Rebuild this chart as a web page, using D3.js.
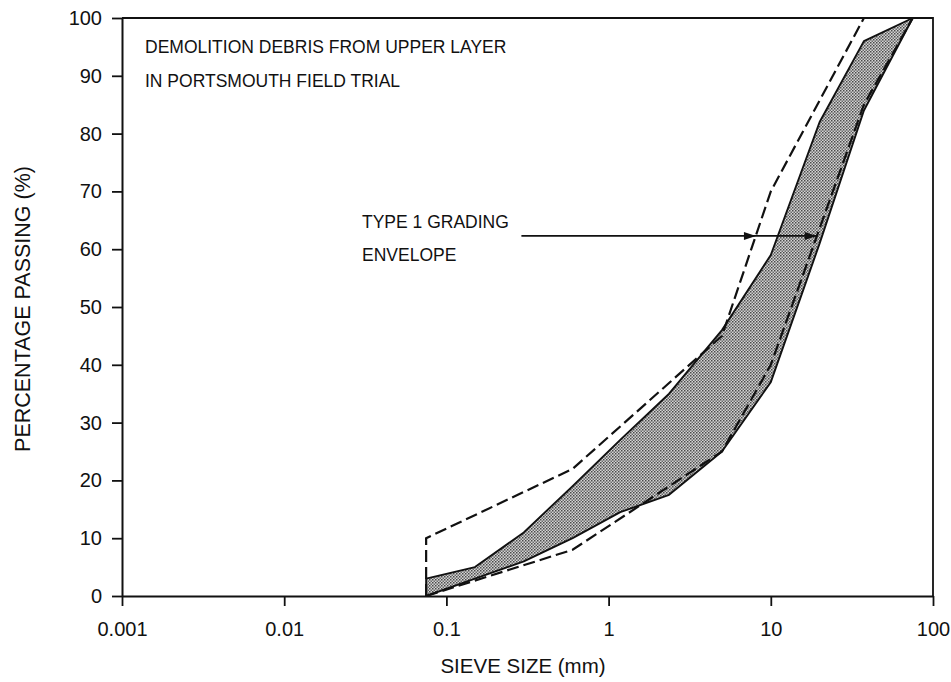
<!DOCTYPE html>
<html>
<head>
<meta charset="utf-8">
<script src="https://cdn.jsdelivr.net/npm/d3@7"></script>
<style>
  html, body { margin: 0; padding: 0; background: #fff; }
  text { font-family: "Liberation Sans", Arial, Helvetica, sans-serif; fill: #111; }
</style>
</head>
<body>
<svg id="chart" width="951" height="682"></svg>
<script>
// ---- data ----
const xTicks = [0.001, 0.01, 0.1, 1, 10, 100];
const xTickLabels = ["0.001", "0.01", "0.1", "1", "10", "100"];
const yTicks = [0, 10, 20, 30, 40, 50, 60, 70, 80, 90, 100];

// Type 1 grading envelope (dashed)
const envSieve = [0.075, 0.6, 5, 10, 37.5, 75];
const envUpper = [10, 22, 45, 70, 100, 100];
const envLower = [0, 8, 25, 40, 85, 100];

// Demolition debris grading band (shaded)
const bandSieve = [0.075, 0.15, 0.3, 0.6, 1.18, 2.36, 5, 10, 20, 37.5, 75];
const bandUpper = [3, 5, 11, 19, 27, 35, 46, 59, 82, 96, 100];
const bandLower = [0, 3, 6, 10, 14.5, 17.5, 25, 37, 61, 84, 100];

// annotation
const titleLines = ["DEMOLITION DEBRIS FROM UPPER LAYER", "IN PORTSMOUTH FIELD TRIAL"];
const noteLines = ["TYPE 1 GRADING", "ENVELOPE"];
const arrowLevel = 62.3;
const arrowFrom = 0.29;
const arrowTips = [8.1, 19.2];

// ---- layout ----
const svg = d3.select("#chart");
const mL = 122, mR = 933, mT = 18, mB = 596;
const x = d3.scaleLog().domain([0.001, 100]).range([mL, mR]);
const y = d3.scaleLinear().domain([0, 100]).range([mB, mT]);

// pattern for shading
const defs = svg.append("defs");
const pat = defs.append("pattern").attr("id", "stip").attr("patternUnits", "userSpaceOnUse")
  .attr("width", 3).attr("height", 3);
pat.append("rect").attr("width", 3).attr("height", 3).attr("fill", "#d4d4d4");
pat.append("rect").attr("x", 0).attr("y", 0).attr("width", 1.5).attr("height", 1.5).attr("fill", "#4a4a4a");
pat.append("rect").attr("x", 1.5).attr("y", 1.5).attr("width", 1.5).attr("height", 1.5).attr("fill", "#6a6a6a");

// shaded band
const bandPts = bandSieve.map((s, i) => [x(s), y(bandUpper[i])])
  .concat(bandSieve.map((s, i) => [x(s), y(bandLower[i])]).reverse());
svg.append("path")
  .attr("d", d3.line()(bandPts) + "Z")
  .attr("fill", "url(#stip)")
  .attr("stroke", "#111").attr("stroke-width", 1.9).attr("stroke-linejoin", "round");

// envelope dashed lines
const dash = "12,5";
const upperPts = [[x(envSieve[0]), y(0)]].concat(envSieve.map((s, i) => [x(s), y(envUpper[i])]));
svg.append("path").attr("d", d3.line()(upperPts))
  .attr("fill", "none").attr("stroke", "#111").attr("stroke-width", 2.2).attr("stroke-dasharray", dash);
const lowerPts = envSieve.map((s, i) => [x(s), y(envLower[i])]);
svg.append("path").attr("d", d3.line()(lowerPts))
  .attr("fill", "none").attr("stroke", "#111").attr("stroke-width", 2.2).attr("stroke-dasharray", dash);

// frame
svg.append("path")
  .attr("d", `M${mL},${mT}H${mR}V${mB}`)
  .attr("fill", "none").attr("stroke", "#111").attr("stroke-width", 1.8);

// axes
const xAxis = d3.axisBottom(x).tickValues(xTicks).tickFormat((d, i) => xTickLabels[i])
  .tickSizeInner(10).tickSizeOuter(0).tickPadding(16);
const gx = svg.append("g").attr("transform", `translate(0,${mB})`).call(xAxis);
const yAxis = d3.axisLeft(y).tickValues(yTicks).tickSizeInner(10).tickSizeOuter(0).tickPadding(10);
const gy = svg.append("g").attr("transform", `translate(${mL},0)`).call(yAxis);
[gx, gy].forEach(g => {
  g.selectAll("path.domain").attr("stroke", "#111").attr("stroke-width", 2);
  g.selectAll(".tick line").attr("stroke", "#111").attr("stroke-width", 1.8);
  g.selectAll("text").attr("font-size", 20).attr("fill", "#111")
    .style("font-family", "'Liberation Sans', Arial, sans-serif");
});

// axis titles
svg.append("text").attr("x", 523).attr("y", 673).attr("text-anchor", "middle")
  .attr("font-size", 20.5).text("SIEVE SIZE (mm)");
svg.append("text").attr("transform", "translate(30,309) rotate(-90)").attr("text-anchor", "middle")
  .attr("font-size", 21.5).text("PERCENTAGE PASSING (%)");

// title block
titleLines.forEach((t, i) => {
  svg.append("text").attr("x", 145).attr("y", 53 + i * 34).attr("font-size", 17.5).text(t);
});

// annotation
noteLines.forEach((t, i) => {
  svg.append("text").attr("x", 362).attr("y", 228 + i * 33).attr("font-size", 17.5).text(t);
});
svg.append("line")
  .attr("x1", x(arrowFrom)).attr("x2", x(arrowTips[1]))
  .attr("y1", y(arrowLevel)).attr("y2", y(arrowLevel))
  .attr("stroke", "#111").attr("stroke-width", 1.8);
arrowTips.forEach(t => {
  const tx = x(t), ty = y(arrowLevel);
  svg.append("path")
    .attr("d", `M${tx},${ty}L${tx - 12},${ty - 4}L${tx - 12},${ty + 4}Z`)
    .attr("fill", "#111");
});
</script>
</body>
</html>
